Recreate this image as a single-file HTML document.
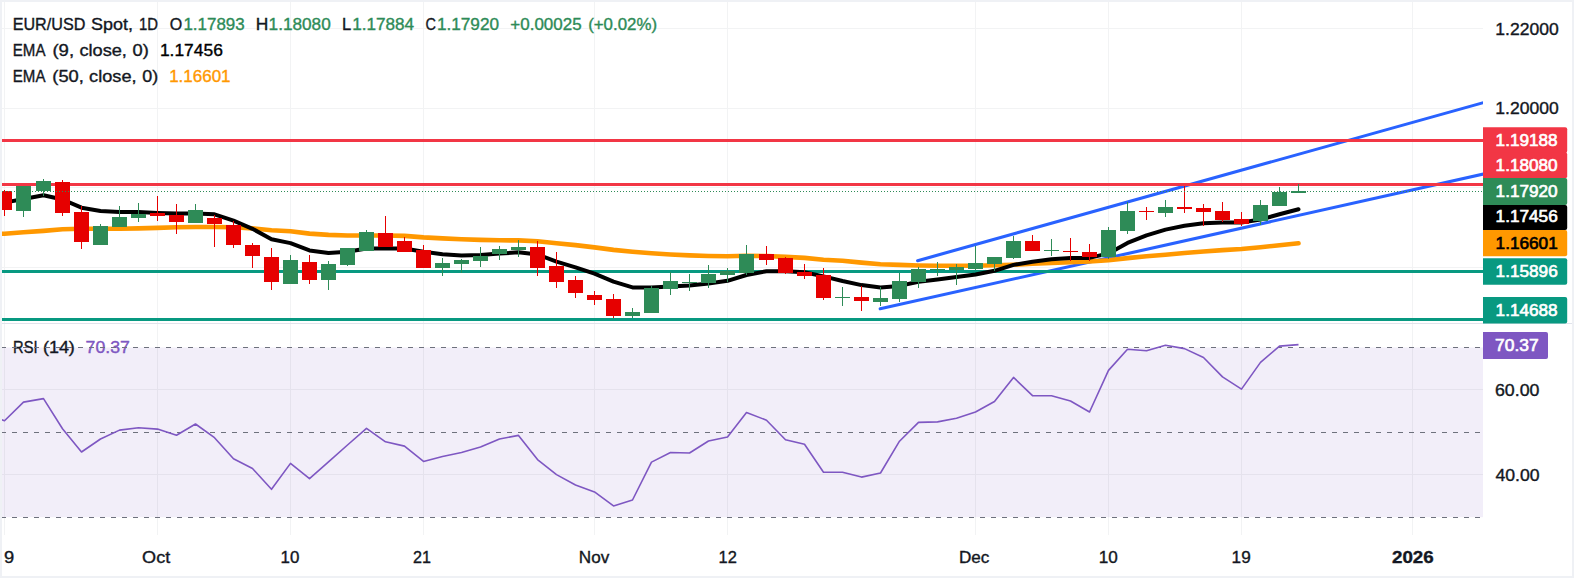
<!DOCTYPE html>
<html lang="en"><head><meta charset="utf-8"><title>EUR/USD Spot, 1D</title>
<style>html,body{margin:0;padding:0;background:#fff;}body{width:1574px;height:578px;overflow:hidden;}svg{display:block;}text{font-family:"Liberation Sans", sans-serif;font-size:16.2px;white-space:pre;}</style>
</head><body>
<svg width="1574" height="578" viewBox="0 0 1574 578">
<rect x="0" y="0" width="1574" height="578" fill="#fff"/>
<rect x="0" y="347.5" width="1483" height="169.7" fill="#f2eef9"/>
<g fill="#f2f3f4">
<rect x="4" y="0" width="1" height="535"/>
<rect x="157" y="0" width="1" height="535"/>
<rect x="290" y="0" width="1" height="535"/>
<rect x="423" y="0" width="1" height="535"/>
<rect x="594" y="0" width="1" height="535"/>
<rect x="727" y="0" width="1" height="535"/>
<rect x="975" y="0" width="1" height="535"/>
<rect x="1108" y="0" width="1" height="535"/>
<rect x="1241" y="0" width="1" height="535"/>
<rect x="1412" y="0" width="1" height="535"/>
<rect x="0" y="28" width="1483" height="1"/>
<rect x="0" y="108" width="1483" height="1"/>
<rect x="0" y="187" width="1483" height="1"/>
<rect x="0" y="267" width="1483" height="1"/>
</g>
<g fill="#e5e2ed">
<rect x="4" y="347.5" width="1" height="169.7"/>
<rect x="157" y="347.5" width="1" height="169.7"/>
<rect x="290" y="347.5" width="1" height="169.7"/>
<rect x="423" y="347.5" width="1" height="169.7"/>
<rect x="594" y="347.5" width="1" height="169.7"/>
<rect x="727" y="347.5" width="1" height="169.7"/>
<rect x="975" y="347.5" width="1" height="169.7"/>
<rect x="1108" y="347.5" width="1" height="169.7"/>
<rect x="1241" y="347.5" width="1" height="169.7"/>
<rect x="1412" y="347.5" width="1" height="169.7"/>
<rect x="0" y="389" width="1483" height="1"/>
<rect x="0" y="474" width="1483" height="1"/>
</g>
<rect x="0" y="323" width="1574" height="1" fill="#e0e3eb"/>
<clipPath id="cp"><rect x="0" y="0" width="1483" height="323"/></clipPath>
<g stroke="#2962ff" stroke-width="3.1" stroke-linecap="round" clip-path="url(#cp)">
<line x1="917.6" y1="260.7" x2="1490" y2="100.8"/>
<line x1="880.2" y1="308.8" x2="1490" y2="172.6"/>
</g>
<rect x="0" y="139" width="1483" height="3" fill="#f23645"/>
<rect x="0" y="183" width="1483" height="3" fill="#f23645"/>
<rect x="0" y="270" width="1483" height="3" fill="#089981"/>
<rect x="0" y="318" width="1483" height="3" fill="#089981"/>
<polyline points="-14.5,234.2 4.5,233.7 23.5,232.3 43.5,230.9 62.5,229.3 81.5,228.7 100.5,228.7 119.5,228.7 138.5,228.4 157.5,227.9 176.5,227.3 195.5,227.0 214.5,227.0 233.5,227.3 252.5,228.4 271.5,230.2 290.5,231.3 309.5,233.6 328.5,234.9 347.5,235.5 366.5,235.5 385.5,235.5 404.5,235.9 423.5,237.4 442.5,238.4 461.5,239.3 480.5,239.9 499.5,240.3 518.5,240.4 537.5,241.3 556.5,243.2 575.5,245.1 594.5,247.4 613.5,249.9 632.5,251.8 651.5,253.3 670.5,254.5 689.5,255.4 708.5,256.0 727.5,256.2 746.5,255.8 766.5,256.0 785.5,256.9 804.5,257.9 823.5,259.8 842.5,260.7 861.5,262.6 880.5,264.2 899.5,264.9 918.5,265.5 937.5,265.7 956.5,265.7 975.5,265.7 994.5,265.3 1013.5,264.7 1032.5,263.8 1051.5,263.0 1070.5,262.3 1089.5,261.5 1108.5,260.3 1127.5,258.1 1146.5,256.2 1165.5,254.7 1184.5,253.0 1203.5,251.5 1222.5,250.1 1241.5,249.0 1260.5,247.3 1279.5,245.2 1298.5,243.3" fill="none" stroke="#ff9800" stroke-width="4.6" stroke-linejoin="round" stroke-linecap="round"/>
<polyline points="-14.5,205.0 4.5,202.6 23.5,199.0 43.5,195.2 62.5,199.5 81.5,207.7 100.5,211.0 119.5,212.1 138.5,212.1 157.5,212.9 176.5,213.5 195.5,213.5 214.5,214.3 233.5,220.7 252.5,228.8 271.5,239.3 290.5,243.1 309.5,250.4 328.5,253.0 347.5,251.7 366.5,248.5 385.5,248.5 404.5,248.5 423.5,251.7 442.5,254.2 461.5,255.5 480.5,254.9 499.5,253.6 518.5,252.3 537.5,254.5 556.5,261.7 575.5,267.4 594.5,273.7 613.5,281.7 632.5,287.4 651.5,287.4 670.5,286.5 689.5,285.5 708.5,283.6 727.5,280.8 746.5,275.0 766.5,271.2 785.5,271.2 804.5,272.2 823.5,276.4 842.5,281.0 861.5,285.1 880.5,287.4 899.5,285.9 918.5,281.7 937.5,279.4 956.5,276.9 975.5,274.5 994.5,270.8 1013.5,264.9 1032.5,261.7 1051.5,259.2 1070.5,258.1 1089.5,257.9 1108.5,253.4 1127.5,242.9 1146.5,235.3 1165.5,229.6 1184.5,225.8 1203.5,223.3 1222.5,222.5 1241.5,222.5 1260.5,219.5 1279.5,214.3 1298.5,209.2" fill="none" stroke="#000" stroke-width="4" stroke-linejoin="round" stroke-linecap="round"/>
<g fill="#e60000"><rect x="4" y="190" width="1" height="26"/><rect x="-3" y="191" width="15" height="19"/></g>
<g fill="#2e8b57"><rect x="23" y="186" width="1" height="31"/><rect x="16" y="186" width="15" height="25"/></g>
<g fill="#2e8b57"><rect x="43" y="179" width="1" height="17"/><rect x="36" y="181" width="15" height="10"/></g>
<g fill="#e60000"><rect x="62" y="180" width="1" height="36"/><rect x="55" y="182" width="15" height="31"/></g>
<g fill="#e60000"><rect x="81" y="206" width="1" height="43"/><rect x="74" y="212" width="15" height="30"/></g>
<g fill="#2e8b57"><rect x="100" y="224" width="1" height="21"/><rect x="93" y="226" width="15" height="19"/></g>
<g fill="#2e8b57"><rect x="119" y="206" width="1" height="21"/><rect x="112" y="217" width="15" height="10"/></g>
<g fill="#2e8b57"><rect x="138" y="203" width="1" height="19"/><rect x="131" y="214" width="15" height="4"/></g>
<g fill="#e60000"><rect x="157" y="196" width="1" height="25"/><rect x="150" y="213" width="15" height="3"/></g>
<g fill="#e60000"><rect x="176" y="204" width="1" height="30"/><rect x="169" y="215" width="15" height="7"/></g>
<g fill="#2e8b57"><rect x="195" y="204" width="1" height="19"/><rect x="188" y="210" width="15" height="13"/></g>
<g fill="#e60000"><rect x="214" y="215" width="1" height="32"/><rect x="207" y="218" width="15" height="6"/></g>
<g fill="#e60000"><rect x="233" y="221" width="1" height="27"/><rect x="226" y="225" width="15" height="20"/></g>
<g fill="#e60000"><rect x="252" y="243" width="1" height="25"/><rect x="245" y="245" width="15" height="11"/></g>
<g fill="#e60000"><rect x="271" y="248" width="1" height="42"/><rect x="264" y="257" width="15" height="25"/></g>
<g fill="#2e8b57"><rect x="290" y="255" width="1" height="29"/><rect x="283" y="260" width="15" height="24"/></g>
<g fill="#e60000"><rect x="309" y="255" width="1" height="29"/><rect x="302" y="262" width="15" height="18"/></g>
<g fill="#2e8b57"><rect x="328" y="261" width="1" height="29"/><rect x="321" y="264" width="15" height="16"/></g>
<g fill="#2e8b57"><rect x="347" y="248" width="1" height="18"/><rect x="340" y="248" width="15" height="17"/></g>
<g fill="#2e8b57"><rect x="366" y="230" width="1" height="21"/><rect x="359" y="232" width="15" height="19"/></g>
<g fill="#e60000"><rect x="385" y="216" width="1" height="31"/><rect x="378" y="233" width="15" height="14"/></g>
<g fill="#e60000"><rect x="404" y="237" width="1" height="15"/><rect x="397" y="241" width="15" height="11"/></g>
<g fill="#e60000"><rect x="423" y="245" width="1" height="23"/><rect x="416" y="250" width="15" height="18"/></g>
<g fill="#2e8b57"><rect x="442" y="258" width="1" height="18"/><rect x="435" y="263" width="15" height="5"/></g>
<g fill="#2e8b57"><rect x="461" y="259" width="1" height="14"/><rect x="454" y="260" width="15" height="4"/></g>
<g fill="#2e8b57"><rect x="480" y="247" width="1" height="20"/><rect x="473" y="256" width="15" height="5"/></g>
<g fill="#2e8b57"><rect x="499" y="246" width="1" height="14"/><rect x="492" y="249" width="15" height="5"/></g>
<g fill="#2e8b57"><rect x="518" y="240" width="1" height="17"/><rect x="511" y="247" width="15" height="3"/></g>
<g fill="#e60000"><rect x="537" y="241" width="1" height="35"/><rect x="530" y="247" width="15" height="21"/></g>
<g fill="#e60000"><rect x="556" y="252" width="1" height="36"/><rect x="549" y="266" width="15" height="16"/></g>
<g fill="#e60000"><rect x="575" y="276" width="1" height="22"/><rect x="568" y="280" width="15" height="13"/></g>
<g fill="#e60000"><rect x="594" y="291" width="1" height="14"/><rect x="587" y="295" width="15" height="5"/></g>
<g fill="#e60000"><rect x="613" y="294" width="1" height="24"/><rect x="606" y="299" width="15" height="17"/></g>
<g fill="#2e8b57"><rect x="632" y="308" width="1" height="10"/><rect x="625" y="312" width="15" height="4"/></g>
<g fill="#2e8b57"><rect x="651" y="286" width="1" height="27"/><rect x="644" y="288" width="15" height="25"/></g>
<g fill="#2e8b57"><rect x="670" y="272" width="1" height="23"/><rect x="663" y="281" width="15" height="8"/></g>
<g fill="#2e8b57"><rect x="689" y="274" width="1" height="17"/><rect x="682" y="282" width="15" height="1"/></g>
<g fill="#2e8b57"><rect x="708" y="265" width="1" height="23"/><rect x="701" y="274" width="15" height="9"/></g>
<g fill="#2e8b57"><rect x="727" y="268" width="1" height="14"/><rect x="720" y="271" width="15" height="4"/></g>
<g fill="#2e8b57"><rect x="746" y="245" width="1" height="30"/><rect x="739" y="254" width="15" height="19"/></g>
<g fill="#e60000"><rect x="766" y="246" width="1" height="19"/><rect x="759" y="254" width="15" height="6"/></g>
<g fill="#e60000"><rect x="785" y="257" width="1" height="17"/><rect x="778" y="258" width="15" height="15"/></g>
<g fill="#e60000"><rect x="804" y="264" width="1" height="15"/><rect x="797" y="272" width="15" height="4"/></g>
<g fill="#e60000"><rect x="823" y="268" width="1" height="32"/><rect x="816" y="275" width="15" height="23"/></g>
<g fill="#2e8b57"><rect x="842" y="287" width="1" height="19"/><rect x="835" y="297" width="15" height="1"/></g>
<g fill="#e60000"><rect x="861" y="286" width="1" height="25"/><rect x="854" y="297" width="15" height="4"/></g>
<g fill="#2e8b57"><rect x="880" y="287" width="1" height="19"/><rect x="873" y="298" width="15" height="4"/></g>
<g fill="#2e8b57"><rect x="899" y="273" width="1" height="29"/><rect x="892" y="281" width="15" height="18"/></g>
<g fill="#2e8b57"><rect x="918" y="267" width="1" height="21"/><rect x="911" y="269" width="15" height="13"/></g>
<g fill="#2e8b57"><rect x="937" y="262" width="1" height="14"/><rect x="930" y="269" width="15" height="1"/></g>
<g fill="#2e8b57"><rect x="956" y="264" width="1" height="21"/><rect x="949" y="267" width="15" height="3"/></g>
<g fill="#2e8b57"><rect x="975" y="246" width="1" height="24"/><rect x="968" y="263" width="15" height="6"/></g>
<g fill="#2e8b57"><rect x="994" y="257" width="1" height="14"/><rect x="987" y="257" width="15" height="7"/></g>
<g fill="#2e8b57"><rect x="1013" y="236" width="1" height="23"/><rect x="1006" y="241" width="15" height="17"/></g>
<g fill="#e60000"><rect x="1032" y="235" width="1" height="16"/><rect x="1025" y="241" width="15" height="10"/></g>
<g fill="#2e8b57"><rect x="1051" y="239" width="1" height="17"/><rect x="1044" y="250" width="15" height="1"/></g>
<g fill="#e60000"><rect x="1070" y="238" width="1" height="23"/><rect x="1063" y="251" width="15" height="1"/></g>
<g fill="#e60000"><rect x="1089" y="244" width="1" height="17"/><rect x="1082" y="252" width="15" height="5"/></g>
<g fill="#2e8b57"><rect x="1108" y="227" width="1" height="32"/><rect x="1101" y="230" width="15" height="27"/></g>
<g fill="#2e8b57"><rect x="1127" y="202" width="1" height="32"/><rect x="1120" y="211" width="15" height="20"/></g>
<g fill="#e60000"><rect x="1146" y="207" width="1" height="13"/><rect x="1139" y="211" width="15" height="1"/></g>
<g fill="#2e8b57"><rect x="1165" y="200" width="1" height="17"/><rect x="1158" y="207" width="15" height="6"/></g>
<g fill="#e60000"><rect x="1184" y="186" width="1" height="27"/><rect x="1177" y="207" width="15" height="2"/></g>
<g fill="#e60000"><rect x="1203" y="204" width="1" height="22"/><rect x="1196" y="208" width="15" height="4"/></g>
<g fill="#e60000"><rect x="1222" y="202" width="1" height="20"/><rect x="1215" y="211" width="15" height="9"/></g>
<g fill="#e60000"><rect x="1241" y="212" width="1" height="14"/><rect x="1234" y="219" width="15" height="5"/></g>
<g fill="#2e8b57"><rect x="1260" y="200" width="1" height="25"/><rect x="1253" y="205" width="15" height="16"/></g>
<g fill="#2e8b57"><rect x="1279" y="187" width="1" height="19"/><rect x="1272" y="192" width="15" height="14"/></g>
<g fill="#2e8b57"><rect x="1298" y="184" width="1" height="9"/><rect x="1291" y="191" width="15" height="2"/></g>
<line x1="2" y1="191.5" x2="1483" y2="191.5" stroke="#2e8b57" stroke-width="1" stroke-dasharray="1 2"/>
<text x="13.07" y="352.7" textLength="24.46" lengthAdjust="spacingAndGlyphs" fill="#131722" stroke="#131722" stroke-width="0.35">RSI</text>
<text x="42.91" y="352.7" textLength="31.95" lengthAdjust="spacingAndGlyphs" fill="#131722" stroke="#131722" stroke-width="0.35">(14)</text>
<text x="85.62" y="352.7" textLength="44.29" lengthAdjust="spacingAndGlyphs" fill="#7e57c2" stroke="#7e57c2" stroke-width="0.35">70.37</text>
<g stroke="#6e717d" stroke-width="1" stroke-dasharray="5 6">
<line x1="1" y1="347.5" x2="1481" y2="347.5"/>
<line x1="1" y1="432.5" x2="1481" y2="432.5"/>
<line x1="1" y1="517.5" x2="1481" y2="517.5"/>
</g>
<polyline points="-14.5,414.0 4.5,420.7 23.5,402.1 43.5,398.6 62.5,428.8 81.5,452.0 100.5,439.0 119.5,430.1 138.5,427.8 157.5,429.1 176.5,435.2 195.5,424.0 214.5,437.7 233.5,458.8 252.5,468.5 271.5,489.3 290.5,463.4 309.5,478.7 328.5,461.8 347.5,445.0 366.5,428.3 385.5,441.8 404.5,446.1 423.5,461.4 442.5,456.5 461.5,452.5 480.5,447.1 499.5,439.0 518.5,435.4 537.5,459.6 556.5,474.6 575.5,485.0 594.5,491.9 613.5,505.9 632.5,500.0 651.5,462.1 670.5,452.5 689.5,453.0 708.5,441.0 727.5,437.0 746.5,412.5 766.5,420.2 785.5,439.7 804.5,444.3 823.5,472.2 842.5,472.2 861.5,477.1 880.5,473.0 899.5,441.2 918.5,422.4 937.5,421.9 956.5,418.3 975.5,412.0 994.5,401.5 1013.5,377.4 1032.5,395.7 1051.5,395.7 1070.5,401.0 1089.5,412.0 1108.5,370.4 1127.5,349.3 1146.5,350.8 1165.5,345.3 1184.5,348.6 1203.5,357.5 1222.5,376.9 1241.5,389.1 1260.5,362.4 1279.5,346.1 1298.5,344.6" fill="none" stroke="#7e57c2" stroke-width="1.6" stroke-linejoin="round"/>
<path d="M1483 127.2H1565.2q2 0 2 2V150.8q0 2 -2 2H1483Z" fill="#f23645"/>
<rect x="1483" y="150" width="83.4" height="5" fill="#f23645"/>
<path d="M1483 152.4H1565.2q2 0 2 2V176.2q0 2 -2 2H1483Z" fill="#f23645"/>
<path d="M1483 178.1H1565.2q2 0 2 2V203q0 2 -2 2H1483Z" fill="#2e8b57"/>
<path d="M1483 204.9H1565.2q2 0 2 2V228q0 2 -2 2H1483Z" fill="#000"/>
<path d="M1483 230H1565.2q2 0 2 2V254.2q0 2 -2 2H1483Z" fill="#ff9800"/>
<path d="M1483 258.3H1565.2q2 0 2 2V282.8q0 2 -2 2H1483Z" fill="#089981"/>
<path d="M1483 297H1565.2q2 0 2 2V321.4q0 2 -2 2H1483Z" fill="#089981"/>
<path d="M1483 332H1546q2 0 2 2V357q0 2 -2 2H1483Z" fill="#7e57c2"/>
<path d="M0 0H1574 V578 H0Z M2 2V576 H1572 V2Z" fill="#eff1f5" fill-rule="evenodd"/>
<text x="12.71" y="29.5" textLength="72.64" lengthAdjust="spacingAndGlyphs" fill="#131722" stroke="#131722" stroke-width="0.35">EUR/USD</text>
<text x="91.05" y="29.5" textLength="41.93" lengthAdjust="spacingAndGlyphs" fill="#131722" stroke="#131722" stroke-width="0.35">Spot,</text>
<text x="138.91" y="29.5" textLength="19.00" lengthAdjust="spacingAndGlyphs" fill="#131722" stroke="#131722" stroke-width="0.35">1D</text>
<text x="169.71" y="29.5" textLength="12.48" lengthAdjust="spacingAndGlyphs" fill="#131722" stroke="#131722" stroke-width="0.35">O</text>
<text x="183.47" y="29.5" textLength="61.12" lengthAdjust="spacingAndGlyphs" fill="#2e8b57" stroke="#2e8b57" stroke-width="0.35">1.17893</text>
<text x="255.85" y="29.5" textLength="12.55" lengthAdjust="spacingAndGlyphs" fill="#131722" stroke="#131722" stroke-width="0.35">H</text>
<text x="268.58" y="29.5" textLength="62.18" lengthAdjust="spacingAndGlyphs" fill="#2e8b57" stroke="#2e8b57" stroke-width="0.35">1.18080</text>
<text x="342.04" y="29.5" textLength="9.22" lengthAdjust="spacingAndGlyphs" fill="#131722" stroke="#131722" stroke-width="0.35">L</text>
<text x="352.23" y="29.5" textLength="61.91" lengthAdjust="spacingAndGlyphs" fill="#2e8b57" stroke="#2e8b57" stroke-width="0.35">1.17884</text>
<text x="425.38" y="29.5" textLength="10.44" lengthAdjust="spacingAndGlyphs" fill="#131722" stroke="#131722" stroke-width="0.35">C</text>
<text x="436.92" y="29.5" textLength="62.11" lengthAdjust="spacingAndGlyphs" fill="#2e8b57" stroke="#2e8b57" stroke-width="0.35">1.17920</text>
<text x="510.33" y="29.5" textLength="71.25" lengthAdjust="spacingAndGlyphs" fill="#2e8b57" stroke="#2e8b57" stroke-width="0.35">+0.00025</text>
<text x="588.16" y="29.5" textLength="68.86" lengthAdjust="spacingAndGlyphs" fill="#2e8b57" stroke="#2e8b57" stroke-width="0.35">(+0.02%)</text>
<text x="12.82" y="55.6" textLength="32.66" lengthAdjust="spacingAndGlyphs" fill="#131722" stroke="#131722" stroke-width="0.35">EMA</text>
<text x="52.43" y="55.6" textLength="21.64" lengthAdjust="spacingAndGlyphs" fill="#131722" stroke="#131722" stroke-width="0.35">(9,</text>
<text x="79.41" y="55.6" textLength="47.53" lengthAdjust="spacingAndGlyphs" fill="#131722" stroke="#131722" stroke-width="0.35">close,</text>
<text x="132.56" y="55.6" textLength="16.23" lengthAdjust="spacingAndGlyphs" fill="#131722" stroke="#131722" stroke-width="0.35">0)</text>
<text x="159.91" y="55.6" textLength="62.91" lengthAdjust="spacingAndGlyphs" fill="#000" stroke="#000" stroke-width="0.35">1.17456</text>
<text x="12.82" y="81.5" textLength="32.66" lengthAdjust="spacingAndGlyphs" fill="#131722" stroke="#131722" stroke-width="0.35">EMA</text>
<text x="52.31" y="81.5" textLength="31.56" lengthAdjust="spacingAndGlyphs" fill="#131722" stroke="#131722" stroke-width="0.35">(50,</text>
<text x="89.11" y="81.5" textLength="47.46" lengthAdjust="spacingAndGlyphs" fill="#131722" stroke="#131722" stroke-width="0.35">close,</text>
<text x="142.30" y="81.5" textLength="15.91" lengthAdjust="spacingAndGlyphs" fill="#131722" stroke="#131722" stroke-width="0.35">0)</text>
<text x="169.16" y="81.5" textLength="61.35" lengthAdjust="spacingAndGlyphs" fill="#ff9800" stroke="#ff9800" stroke-width="0.35">1.16601</text>
<text x="1495.37" y="34.9" textLength="63.39" lengthAdjust="spacingAndGlyphs" fill="#131722" stroke="#131722" stroke-width="0.35">1.22000</text>
<text x="1495.37" y="114.1" textLength="63.39" lengthAdjust="spacingAndGlyphs" fill="#131722" stroke="#131722" stroke-width="0.35">1.20000</text>
<text x="1494.98" y="395.5" textLength="44.49" lengthAdjust="spacingAndGlyphs" fill="#131722" stroke="#131722" stroke-width="0.35">60.00</text>
<text x="1495.43" y="480.5" textLength="44.13" lengthAdjust="spacingAndGlyphs" fill="#131722" stroke="#131722" stroke-width="0.35">40.00</text>
<text x="1495.58" y="146.4" textLength="62.09" lengthAdjust="spacingAndGlyphs" fill="#fff" stroke="#fff" stroke-width="0.65" font-size="16.7">1.19188</text>
<text x="1495.58" y="171.4" textLength="62.10" lengthAdjust="spacingAndGlyphs" fill="#fff" stroke="#fff" stroke-width="0.65" font-size="16.7">1.18080</text>
<text x="1495.58" y="197.1" textLength="62.10" lengthAdjust="spacingAndGlyphs" fill="#fff" stroke="#fff" stroke-width="0.65" font-size="16.7">1.17920</text>
<text x="1495.58" y="222.2" textLength="62.13" lengthAdjust="spacingAndGlyphs" fill="#fff" stroke="#fff" stroke-width="0.65" font-size="16.7">1.17456</text>
<text x="1495.58" y="248.7" textLength="62.14" lengthAdjust="spacingAndGlyphs" fill="#000" stroke="#000" stroke-width="0.65" font-size="16.7">1.16601</text>
<text x="1495.58" y="277.2" textLength="62.13" lengthAdjust="spacingAndGlyphs" fill="#fff" stroke="#fff" stroke-width="0.65" font-size="16.7">1.15896</text>
<text x="1495.58" y="315.9" textLength="62.09" lengthAdjust="spacingAndGlyphs" fill="#fff" stroke="#fff" stroke-width="0.65" font-size="16.7">1.14688</text>
<text x="1495.09" y="351.4" textLength="43.55" lengthAdjust="spacingAndGlyphs" fill="#fff" stroke="#fff" stroke-width="0.65" font-size="16.7">70.37</text>
<text x="4.09" y="563.0" textLength="10.19" lengthAdjust="spacingAndGlyphs" fill="#131722" stroke="#131722" stroke-width="0.35">9</text>
<text x="142.08" y="563.0" textLength="28.11" lengthAdjust="spacingAndGlyphs" fill="#131722" stroke="#131722" stroke-width="0.35">Oct</text>
<text x="280.64" y="563.0" textLength="18.82" lengthAdjust="spacingAndGlyphs" fill="#131722" stroke="#131722" stroke-width="0.35">10</text>
<text x="413.03" y="563.0" textLength="17.95" lengthAdjust="spacingAndGlyphs" fill="#131722" stroke="#131722" stroke-width="0.35">21</text>
<text x="578.82" y="563.0" textLength="30.47" lengthAdjust="spacingAndGlyphs" fill="#131722" stroke="#131722" stroke-width="0.35">Nov</text>
<text x="718.55" y="563.0" textLength="18.28" lengthAdjust="spacingAndGlyphs" fill="#131722" stroke="#131722" stroke-width="0.35">12</text>
<text x="958.96" y="563.0" textLength="30.42" lengthAdjust="spacingAndGlyphs" fill="#131722" stroke="#131722" stroke-width="0.35">Dec</text>
<text x="1098.77" y="563.0" textLength="19.04" lengthAdjust="spacingAndGlyphs" fill="#131722" stroke="#131722" stroke-width="0.35">10</text>
<text x="1231.60" y="563.0" textLength="19.11" lengthAdjust="spacingAndGlyphs" fill="#131722" stroke="#131722" stroke-width="0.35">19</text>
<text x="1392.06" y="563.0" textLength="41.64" lengthAdjust="spacingAndGlyphs" fill="#131722" stroke="#131722" stroke-width="0.35" font-weight="bold">2026</text>
</svg>
</body></html>
